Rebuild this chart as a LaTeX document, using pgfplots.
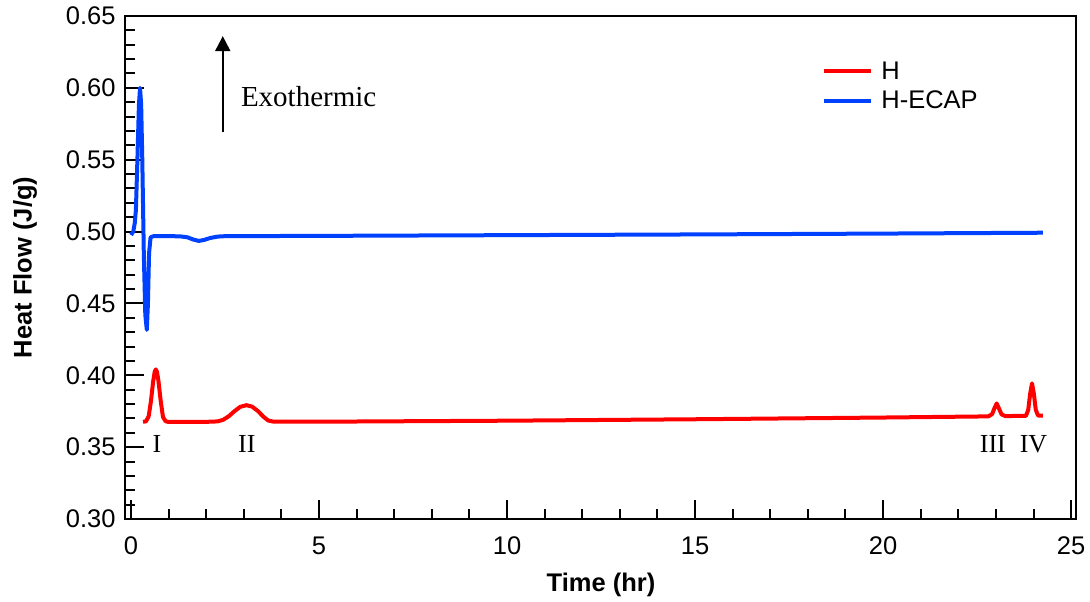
\documentclass[border=0pt]{standalone}
\usepackage{pgfplots}
\pgfplotsset{compat=1.18}
\usepackage{fontspec}
\setmainfont{Liberation Sans}
\newfontfamily\serifrm{Liberation Serif}
\usetikzlibrary{arrows.meta}
\definecolor{hred}{RGB}{255,0,0}
\definecolor{hblue}{RGB}{0,64,255}
\begin{document}
\begin{tikzpicture}
\useasboundingbox (-125pt,-83pt) rectangle (965pt,519pt);
\begin{axis}[
  at={(0pt,0pt)}, anchor=south west,
  scale only axis, width=951pt, height=503pt,
  xmin=-0.16, xmax=25.13, ymin=0.30, ymax=0.65,
  xtick={0,5,10,15,20,25},
  ytick={0.30,0.35,0.40,0.45,0.50,0.55,0.60,0.65},
  minor x tick num=4, minor y tick num=4,
  xtick pos=left, ytick pos=left, tick align=inside,
  major tick length=19pt, minor tick length=10pt,
  axis line style={line width=2.2pt},
  every tick/.style={black, line width=2pt},
  /pgf/number format/assume math mode=true,
  tick label style={font=\fontsize{25.5}{30}\selectfont},
  xticklabel style={yshift=-14pt},
  yticklabel style={xshift=-6pt, /pgf/number format/.cd, fixed, fixed zerofill, precision=2},
  xlabel={Time (hr)},
  ylabel={Heat Flow (J/g)},
  label style={font=\fontsize{25.5}{30}\selectfont\bfseries},
  xlabel style={at={(axis description cs:0.5005,0)}, anchor=center, yshift=-66pt},
  ylabel style={at={(axis description cs:-0.105,0.5)}, anchor=center, rotate=0},
  legend style={draw=none, fill=none, at={(axis cs:18.3,0.621)}, anchor=north west,
    font=\fontsize{25.5}{30}\selectfont, row sep=6pt},
  legend cell align=left,
  legend image code/.code={\draw[#1] (0pt,0pt) -- (47pt,0pt); \path (53pt,0pt);},
]
\addplot[hred, line width=4pt, line join=round] coordinates {
(0.32,0.3676) (0.40,0.3680) (0.47,0.3715) (0.53,0.3820) (0.59,0.3960) (0.63,0.4025)
(0.66,0.4041) (0.69,0.4025) (0.73,0.3960) (0.79,0.3820) (0.85,0.3710) (0.92,0.3680)
(1.00,0.3675) (2.00,0.3676) (2.30,0.3679) (2.45,0.3690) (2.60,0.3715) (2.75,0.3750)
(2.90,0.3780) (3.07,0.3792) (3.22,0.3782) (3.38,0.3750) (3.52,0.3712) (3.65,0.3685)
(3.80,0.3677) (5.00,0.3677) (10.00,0.3684) (15.00,0.3694) (20.00,0.3706)
(22.80,0.3714) (22.90,0.3730) (22.96,0.3770) (23.02,0.3804) (23.08,0.3770)
(23.15,0.3728) (23.25,0.3716) (23.80,0.3718) (23.86,0.3760) (23.91,0.3870)
(23.96,0.3944) (24.01,0.3870) (24.06,0.3760) (24.12,0.3720) (24.25,0.3720)
};
\addlegendentry{H}
\addplot[hblue, line width=4pt, line join=round] coordinates {
(0.00,0.4976) (0.06,0.5000) (0.10,0.5060) (0.13,0.5150) (0.17,0.5500) (0.21,0.5880)
(0.24,0.6000) (0.27,0.5880) (0.30,0.5500) (0.34,0.4850) (0.38,0.4420) (0.42,0.4316)
(0.45,0.4500) (0.48,0.4850) (0.52,0.4960) (0.60,0.4968) (1.00,0.4968) (1.30,0.4967)
(1.50,0.4960) (1.65,0.4945) (1.80,0.4935) (1.95,0.4942) (2.10,0.4955) (2.30,0.4965)
(2.50,0.4968) (5.00,0.4970) (10.00,0.4975) (15.00,0.4980) (20.00,0.4986)
(24.25,0.4992)
};
\addlegendentry{H-ECAP}
\draw[-{Triangle[length=15pt,width=15pt]}, line width=2pt] (axis cs:2.44,0.569) -- (axis cs:2.44,0.636);
\node[anchor=base west, inner sep=0pt, font=\serifrm\fontsize{29}{34}\selectfont] at (axis cs:2.92,0.5873) {Exothermic};
\begin{scope}[every node/.style={anchor=base, inner sep=0pt, font=\serifrm\fontsize{26}{30}\selectfont}]
\node at (axis cs:0.69,0.3466) {I};
\node at (axis cs:3.08,0.3466) {II};
\node at (axis cs:22.92,0.3466) {III};
\node at (axis cs:24.00,0.3466) {IV};
\end{scope}
\end{axis}
\end{tikzpicture}
\end{document}
